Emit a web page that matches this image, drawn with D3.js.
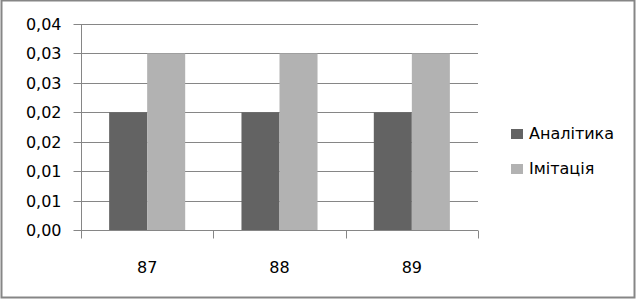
<!DOCTYPE html>
<html>
<head>
<meta charset="utf-8">
<script src="https://cdn.jsdelivr.net/npm/d3@7"></script>
<style>
  body { margin: 0; background: #fff; }
  text { font-family: "DejaVu Sans", sans-serif; font-size: 16px; fill: #000; }
</style>
</head>
<body>
<svg id="chart" width="637" height="299"></svg>
<script>
// data
var categories = ['87', '88', '89'];
var seriesNames = ['Аналітика', 'Імітація'];
var analytics = [0.02, 0.02, 0.02];
var imitation = [0.03, 0.03, 0.03];
var yTicks = [0, 0.005, 0.01, 0.015, 0.02, 0.025, 0.03, 0.035];
var yTickLabels = ['0,00', '0,01', '0,01', '0,02', '0,02', '0,03', '0,03', '0,04'];
var colors = ['#636363', '#b2b2b2'];

var svg = d3.select('#chart');

// outer frame
svg.append('rect')
	.attr('x', 1.5).attr('y', 0.5)
	.attr('width', 633).attr('height', 297)
	.attr('fill', '#fff')
	.attr('stroke', '#868686')
	.attr('stroke-width', 2);

// plot area ("top" is taken by window.top, so prefixed names)
var pLeft = 81, pRight = 478, pTop = 24, pBottom = 230;

var y = d3.scaleLinear().domain([0, 0.035]).range([pBottom, pTop]);
var x0 = d3.scaleBand().domain(categories).range([pLeft, pRight]);
var x1 = d3.scaleBand().domain(seriesNames).range([0, x0.bandwidth()]).paddingOuter(0.74);

// grid lines
svg.append('g').selectAll('line')
	.data(yTicks.slice(1))
	.enter().append('line')
		.attr('x1', pLeft).attr('x2', pRight)
		.attr('y1', function (d) { return Math.round(y(d)) + 0.5; })
		.attr('y2', function (d) { return Math.round(y(d)) + 0.5; })
		.attr('stroke', '#868686');

// bars
var rows = categories.map(function (c, i) {
	return { cat: c, values: [analytics[i], imitation[i]] };
});

var group = svg.append('g').selectAll('g')
	.data(rows)
	.enter().append('g')
		.attr('transform', function (d) { return 'translate(' + x0(d.cat) + ',0)'; });

group.selectAll('rect')
	.data(function (d) { return d.values.map(function (v, j) { return { name: seriesNames[j], v: v, j: j }; }); })
	.enter().append('rect')
		.attr('x', function (d) { return x1(d.name); })
		.attr('y', function (d) { return y(d.v); })
		.attr('width', x1.bandwidth())
		.attr('height', function (d) { return pBottom - y(d.v); })
		.attr('fill', function (d) { return colors[d.j]; });

// y axis
var yAxis = d3.axisLeft(y)
	.tickValues(yTicks)
	.tickSize(8)
	.tickPadding(12)
	.tickFormat(function (d, i) { return yTickLabels[i]; });

var gy = svg.append('g')
	.attr('transform', 'translate(' + (pLeft + 0.5) + ',0)')
	.call(yAxis);
gy.selectAll('line, path').attr('stroke', '#868686');
gy.selectAll('.tick').attr('transform', function (d) { return 'translate(0,' + (Math.round(y(d)) + 0.5) + ')'; });
gy.select('.domain').attr('d', 'M0,' + pTop + 'V' + pBottom);
gy.selectAll('text').style('font-family', '"DejaVu Sans", sans-serif').style('font-size', '16px').attr('fill', '#000');

// x axis with ticks on band boundaries
var gx = svg.append('g')
	.attr('transform', 'translate(0,' + (pBottom + 0.5) + ')');
gx.append('line')
	.attr('x1', pLeft).attr('x2', pRight)
	.attr('stroke', '#868686');
gx.selectAll('line.tick')
	.data(categories.concat(['end']))
	.enter().append('line')
		.attr('class', 'tick')
		.attr('x1', function (d) { return Math.round(d === 'end' ? pRight : x0(d)) + 0.5; })
		.attr('x2', function (d) { return Math.round(d === 'end' ? pRight : x0(d)) + 0.5; })
		.attr('y1', 0).attr('y2', 8)
		.attr('stroke', '#868686');
gx.selectAll('text')
	.data(categories)
	.enter().append('text')
		.attr('x', function (d) { return x0(d) + x0.bandwidth() / 2; })
		.attr('y', 42)
		.attr('text-anchor', 'middle')
		.text(function (d) { return d; });

// legend
var legend = svg.append('g').selectAll('g')
	.data(seriesNames)
	.enter().append('g')
		.attr('transform', function (d, i) { return 'translate(511,' + (129 + i * 35) + ')'; });
legend.append('rect')
	.attr('width', 12).attr('height', 10)
	.attr('fill', function (d, i) { return colors[i]; });
legend.append('text')
	.attr('x', 18).attr('y', 10)
	.text(function (d) { return d; });
</script>
</body>
</html>
